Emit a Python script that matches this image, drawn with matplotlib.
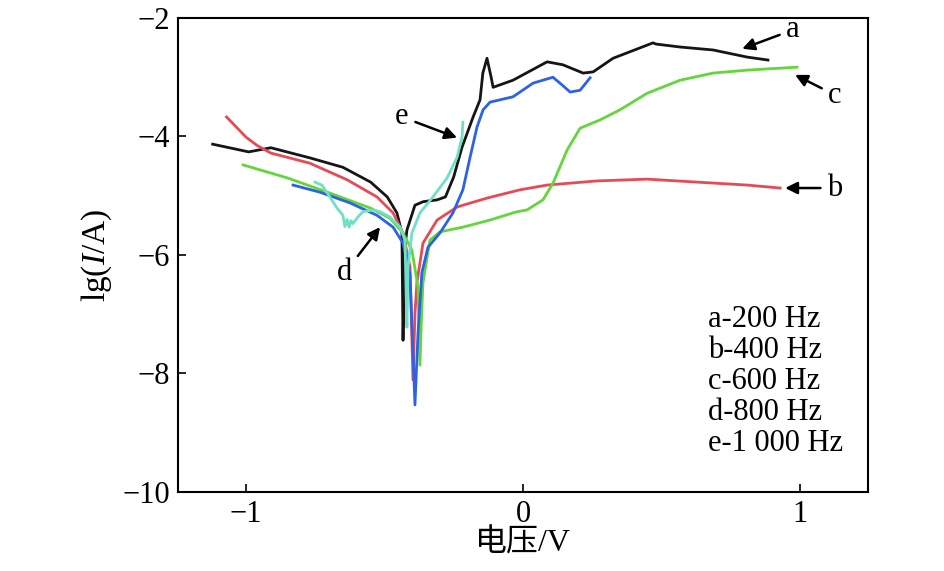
import matplotlib
matplotlib.use('Agg')
import matplotlib.pyplot as plt

# polarisation curves: potential (V) and lg(I/A)
a_v = [-1.12, -0.99, -0.91, -0.77, -0.65, -0.55, -0.49, -0.455, -0.437, -0.433, -0.427, -0.419,
       -0.39, -0.36, -0.31, -0.28, -0.25, -0.22, -0.18, -0.155, -0.145, -0.13, -0.115, -0.108,
       -0.036, 0.087, 0.144, 0.217, 0.253, 0.325, 0.469, 0.48, 0.567, 0.686, 0.809, 0.884]
a_lg = [-4.13, -4.26, -4.19, -4.36, -4.52, -4.77, -5.02, -5.29, -5.63, -7.44, -5.9, -5.58,
        -5.16, -5.1, -5.07, -5.02, -4.68, -4.18, -3.67, -3.38, -2.93, -2.68, -3.0, -3.17,
        -3.05, -2.74, -2.79, -2.93, -2.91, -2.68, -2.42, -2.44, -2.49, -2.54, -2.66, -2.71]

b_v = [-1.07, -1.0, -0.96, -0.91, -0.77, -0.635, -0.527, -0.469, -0.433, -0.408, -0.397, -0.39,
       -0.383, -0.361, -0.31, -0.238, -0.13, -0.011, 0.087, 0.267, 0.448, 0.628, 0.809, 0.928]
b_lg = [-3.67, -4.01, -4.15, -4.28, -4.45, -4.73, -5.02, -5.29, -5.63, -6.2, -8.11, -7.0,
        -6.47, -5.8, -5.41, -5.19, -5.04, -4.9, -4.82, -4.75, -4.72, -4.77, -4.82, -4.87]

c_v = [-1.01, -0.85, -0.70, -0.55, -0.48, -0.433, -0.401, -0.379, -0.372, -0.366, -0.361, -0.336,
       -0.30, -0.217, -0.119, -0.022, 0.014, 0.072, 0.108, 0.159, 0.206, 0.278, 0.35, 0.448,
       0.567, 0.686, 0.809, 0.989]
c_lg = [-4.48, -4.70, -4.95, -5.21, -5.38, -5.63, -5.92, -6.54, -7.86, -7.0, -6.47, -5.75,
        -5.61, -5.53, -5.41, -5.27, -5.24, -5.07, -4.79, -4.23, -3.86, -3.72, -3.55, -3.27,
        -3.05, -2.93, -2.88, -2.83]

d_v = [-0.83, -0.733, -0.625, -0.527, -0.469, -0.433, -0.408, -0.39, -0.379, -0.365, -0.343, -0.30,
       -0.253, -0.217, -0.191, -0.166, -0.144, -0.119, -0.036, 0.036, 0.108, 0.141, 0.17, 0.206, 0.242]
d_lg = [-4.82, -4.94, -5.12, -5.33, -5.53, -5.80, -6.30, -8.53, -7.32, -6.30, -5.87, -5.63,
        -5.29, -4.90, -4.35, -3.84, -3.55, -3.42, -3.33, -3.10, -3.00, -3.13, -3.25, -3.22, -3.01]

e_v = [-0.751, -0.726, -0.697, -0.671, -0.650, -0.643, -0.635, -0.628, -0.621, -0.614, -0.596,
       -0.578, -0.542, -0.516, -0.480, -0.444, -0.426, -0.419, -0.415, -0.401, -0.372, -0.325,
       -0.274, -0.238, -0.220, -0.217]
e_lg = [-4.77, -4.82, -5.02, -5.21, -5.33, -5.52, -5.40, -5.53, -5.42, -5.47, -5.36,
        -5.27, -5.24, -5.27, -5.36, -5.53, -5.75, -7.22, -6.20, -5.63, -5.29, -5.02,
        -4.70, -4.35, -4.01, -3.76]

legend_lines = ['a-200 Hz', 'b-400 Hz', 'c-600 Hz', 'd-800 Hz', 'e-1 000 Hz']

# curve label, text position, arrow head position
labels = ['a', 'b', 'c', 'd', 'e']
label_xy = [(0.975, -2.20), (1.126, -4.87), (1.126, -3.30), (-0.643, -6.30), (-0.437, -3.67)]
arrow_xy = [(0.791, -2.52), (0.946, -4.87), (0.982, -2.96), (-0.516, -5.53), (-0.238, -4.02)]

plt.rcParams['font.family'] = ['Liberation Serif', 'Noto Sans CJK SC']
plt.rcParams['mathtext.fontset'] = 'custom'
plt.rcParams['mathtext.rm'] = 'Liberation Serif'
plt.rcParams['mathtext.it'] = 'Liberation Serif:italic'

fig = plt.figure(figsize=(9.45, 5.71), dpi=100)
ax = fig.add_axes([0.1884, 0.1384, 0.7301, 0.8301])

ax.plot(a_v, a_lg, color='#151515', lw=2.0)
ax.plot(b_v, b_lg, color='#e84a55', lw=2.0)
ax.plot(c_v, c_lg, color='#62d63a', lw=2.0)
ax.plot(d_v, d_lg, color='#2b62e6', lw=2.0)
ax.plot(e_v, e_lg, color='#6fe0c6', lw=2.0)

for lab, txy, hxy in zip(labels, label_xy, arrow_xy):
    ax.annotate(lab, xy=hxy, xytext=txy, fontsize=22, ha='center', va='center',
                arrowprops=dict(arrowstyle='-|>', color='k', lw=1.8,
                                mutation_scale=18, shrinkA=3, shrinkB=0))

for i, line in enumerate(legend_lines):
    ax.text(0.768, 0.364 - i * 0.0655, line, transform=ax.transAxes,
            fontsize=22, ha='left', va='center')

ax.set_xlim(-1.245, 1.245)
ax.set_ylim(-10, -2)
ax.set_xticks([-1, 0, 1])
ax.set_yticks([-10, -8, -6, -4, -2])
ax.tick_params(direction='in', length=6, width=1.2, labelsize=22, pad=6)
for s in ax.spines.values():
    s.set_linewidth(1.5)

ax.set_xlabel('电压/V', fontsize=23, labelpad=0)
ax.set_ylabel(r'lg($I$/A)', fontsize=24, labelpad=6)

fig.savefig('out.png', dpi=100)
